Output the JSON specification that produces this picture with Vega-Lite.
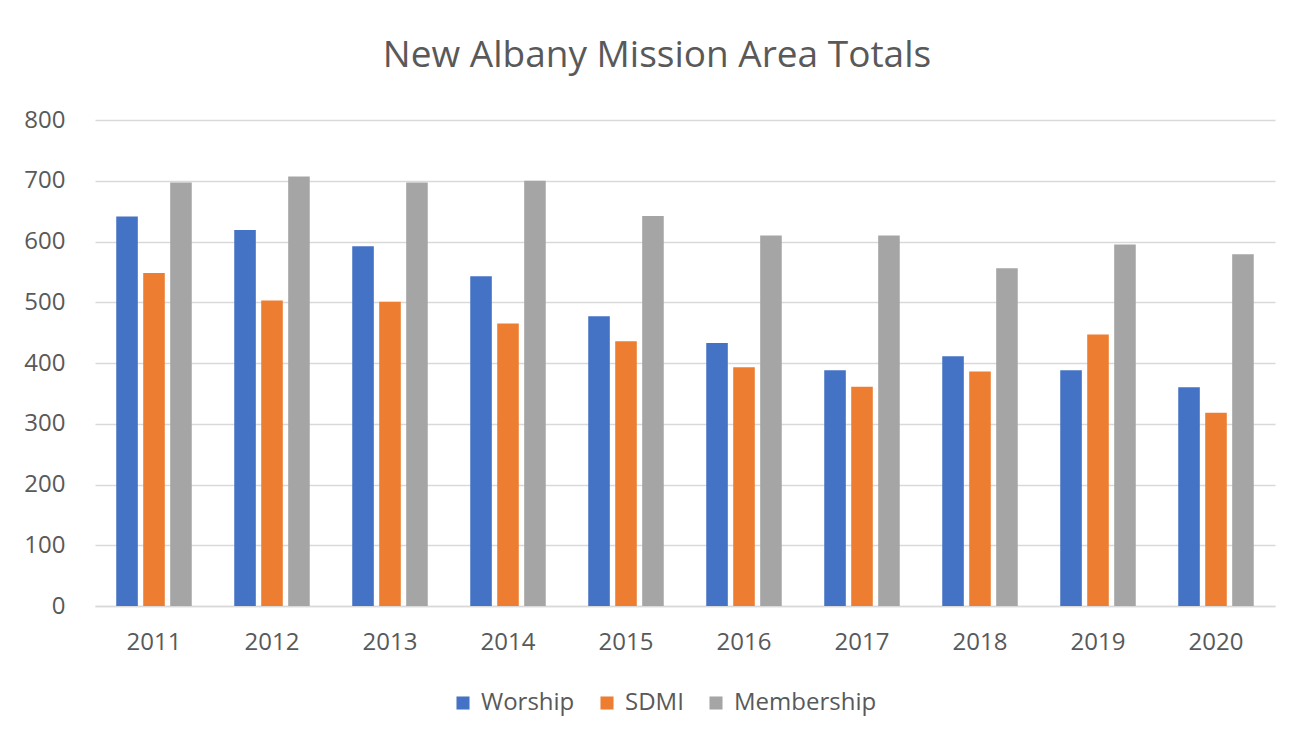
{
  "$schema": "https://vega.github.io/schema/vega-lite/v6.json",
  "autosize": "none",
  "width": 1180,
  "height": 486,
  "padding": {"left": 95, "top": 120, "right": 33, "bottom": 136},
  "background": "white",
  "title": {
    "text": "New Albany Mission Area Totals",
    "font": "Open Sans",
    "fontSize": 37,
    "fontWeight": "normal",
    "color": "#595959",
    "anchor": "middle",
    "dx": -28,
    "offset": 33
  },
  "data": {
    "values": [
      {"year": "2011", "series": "Worship", "value": 641},
      {"year": "2011", "series": "SDMI", "value": 548},
      {"year": "2011", "series": "Membership", "value": 697},
      {"year": "2012", "series": "Worship", "value": 619},
      {"year": "2012", "series": "SDMI", "value": 503},
      {"year": "2012", "series": "Membership", "value": 707},
      {"year": "2013", "series": "Worship", "value": 592},
      {"year": "2013", "series": "SDMI", "value": 501},
      {"year": "2013", "series": "Membership", "value": 697},
      {"year": "2014", "series": "Worship", "value": 543},
      {"year": "2014", "series": "SDMI", "value": 465},
      {"year": "2014", "series": "Membership", "value": 700},
      {"year": "2015", "series": "Worship", "value": 477},
      {"year": "2015", "series": "SDMI", "value": 436},
      {"year": "2015", "series": "Membership", "value": 642},
      {"year": "2016", "series": "Worship", "value": 433},
      {"year": "2016", "series": "SDMI", "value": 393},
      {"year": "2016", "series": "Membership", "value": 610},
      {"year": "2017", "series": "Worship", "value": 388},
      {"year": "2017", "series": "SDMI", "value": 361},
      {"year": "2017", "series": "Membership", "value": 610},
      {"year": "2018", "series": "Worship", "value": 411},
      {"year": "2018", "series": "SDMI", "value": 386},
      {"year": "2018", "series": "Membership", "value": 556},
      {"year": "2019", "series": "Worship", "value": 388},
      {"year": "2019", "series": "SDMI", "value": 447},
      {"year": "2019", "series": "Membership", "value": 595},
      {"year": "2020", "series": "Worship", "value": 360},
      {"year": "2020", "series": "SDMI", "value": 318},
      {"year": "2020", "series": "Membership", "value": 579}
    ]
  },
  "mark": {"type": "bar"},
  "encoding": {
    "x": {
      "field": "year",
      "type": "nominal",
      "scale": {"paddingInner": 0.36, "paddingOuter": 0.18},
      "axis": {
        "title": null,
        "labelAngle": 0,
        "labelFont": "Open Sans",
        "labelFontSize": 24,
        "labelColor": "#595959",
        "labelPadding": 24,
        "ticks": false,
        "domainColor": "#D9D9D9",
        "domainWidth": 1.5,
        "grid": false
      }
    },
    "xOffset": {
      "field": "series",
      "type": "nominal",
      "sort": ["Worship", "SDMI", "Membership"],
      "scale": {"paddingInner": 0.2}
    },
    "y": {
      "field": "value",
      "type": "quantitative",
      "scale": {"domain": [0, 800]},
      "axis": {
        "title": null,
        "values": [0, 100, 200, 300, 400, 500, 600, 700, 800],
        "labelFont": "Open Sans",
        "labelFontSize": 24,
        "labelColor": "#595959",
        "labelPadding": 30,
        "ticks": false,
        "domain": false,
        "gridColor": "#D9D9D9",
        "gridWidth": 1.5
      }
    },
    "color": {
      "field": "series",
      "type": "nominal",
      "sort": ["Worship", "SDMI", "Membership"],
      "scale": {
        "domain": ["Worship", "SDMI", "Membership"],
        "range": ["#4472C4", "#ED7D31", "#A5A5A5"]
      },
      "legend": {
        "title": null,
        "orient": "none",
        "direction": "horizontal",
        "legendX": 356,
        "legendY": 571,
        "symbolType": "square",
        "symbolSize": 170,
        "labelFont": "Open Sans",
        "labelFontSize": 24,
        "labelColor": "#595959",
        "labelOffset": 6,
        "columnPadding": 20
      }
    }
  },
  "config": {"view": {"stroke": null}}
}
